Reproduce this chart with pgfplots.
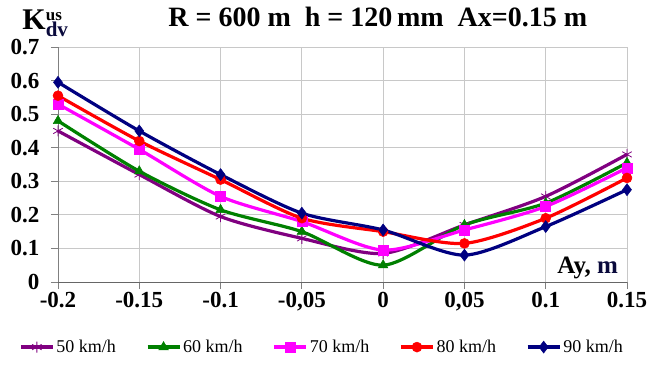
\documentclass[border=0pt]{standalone}
\usepackage{fontspec}
\setmainfont{Liberation Serif}
\usepackage{pgfplots}
\pgfplotsset{compat=1.18}
\definecolor{cpurple}{RGB}{128,0,128}
\definecolor{cgreen}{RGB}{0,128,0}
\definecolor{cmag}{RGB}{255,0,255}
\definecolor{cred}{RGB}{255,0,0}
\definecolor{cnavy}{RGB}{0,0,128}
\definecolor{cdark}{RGB}{10,10,60}
\definecolor{cgrid}{RGB}{200,200,200}
\begin{document}
\begin{tikzpicture}
\path[use as bounding box] (-58pt,-83pt) rectangle (595pt,282pt);
\begin{axis}[
  at={(0pt,0pt)}, anchor=south west,
  scale only axis, width=569pt, height=235pt,
  xmin=-0.2, xmax=0.15, ymin=0, ymax=0.7,
  axis x line*=bottom, axis y line*=left,
  xtick={-0.2,-0.15,-0.1,-0.05,0,0.05,0.1,0.15},
  xticklabels={{-0.2},{-0.15},{-0.1},{-0,05},{0},{0,05},{0.1},{0.15}},
  ytick={0,0.1,...,0.7},
  yticklabels={0,0.1,0.2,0.3,0.4,0.5,0.6,0.7},
  grid=major, grid style={cgrid, line width=0.8pt},
  x axis line style={draw=gray!80!black, line width=1pt, -},
  y axis line style={draw=gray, line width=0.8pt, -},
  tick align=outside, major tick length=7pt,
  tick style={gray, line width=0.8pt},
  tick label style={font=\fontsize{23}{25}\selectfont\bfseries},
  xticklabel style={yshift=0pt},
  yticklabel style={xshift=-8pt},
  clip=false,
  legend style={at={(0.464,-0.277)}, anchor=center, draw=none,
    font=\fontsize{18}{20}\selectfont, legend columns=5,
    /tikz/every even column/.append style={column sep=28pt}},
  legend image code/.code={
    \draw[#1,mark=none] (0pt,0pt) -- (32pt,0pt);
    \draw[#1,only marks] plot coordinates {(16pt,0pt)};},
  every axis plot/.append style={line width=3.2pt, smooth, tension=0.45},
]
\addplot[cpurple, mark=asterisk, mark size=5.5pt, mark options={line width=0.8pt}] coordinates {
(-0.2,0.45) (-0.15,0.32) (-0.1,0.195) (-0.05,0.13) (0,0.085) (0.05,0.17) (0.1,0.255) (0.15,0.38)};
\addlegendentry{50 km/h}
\addplot[cgreen, mark=triangle*, mark size=5.5pt, mark options={line width=0.5pt}] coordinates {
(-0.2,0.48) (-0.15,0.33) (-0.1,0.215) (-0.05,0.15) (0,0.05) (0.05,0.17) (0.1,0.235) (0.15,0.355)};
\addlegendentry{60 km/h}
\addplot[cmag, mark=square*, mark size=5pt, mark options={line width=0.5pt}] coordinates {
(-0.2,0.53) (-0.15,0.395) (-0.1,0.255) (-0.05,0.18) (0,0.095) (0.05,0.155) (0.1,0.225) (0.15,0.34)};
\addlegendentry{70 km/h}
\addplot[cred, mark=*, mark size=5pt, mark options={line width=0.5pt}] coordinates {
(-0.2,0.555) (-0.15,0.42) (-0.1,0.305) (-0.05,0.19) (0,0.15) (0.05,0.115) (0.1,0.19) (0.15,0.31)};
\addlegendentry{80 km/h}
\addplot[cnavy, mark=diamond*, mark size=6pt, mark options={line width=0.5pt}] coordinates {
(-0.2,0.595) (-0.15,0.45) (-0.1,0.32) (-0.05,0.205) (0,0.155) (0.05,0.08) (0.1,0.165) (0.15,0.275)};
\addlegendentry{90 km/h}
\node[font=\fontsize{25}{27}\selectfont\bfseries, anchor=center] at (rel axis cs:0.931,0.06) {Ay, \textcolor{cdark}{m}};
\node[font=\fontsize{28}{30}\selectfont\bfseries, anchor=center] at (rel axis cs:0.562,1.128) {R = 600 m\ \ h = 120\,mm\ \ Ax=0.15 m};
\node[font=\fontsize{30}{32}\selectfont\bfseries, anchor=center, inner sep=0pt] at (rel axis cs:-0.022,1.1) {K$^{\hbox{\fontsize{17}{17}\selectfont\bfseries us}}_{\hbox{\fontsize{21}{21}\selectfont\bfseries\color{cdark}dv}}$};
\end{axis}
\end{tikzpicture}
\end{document}
